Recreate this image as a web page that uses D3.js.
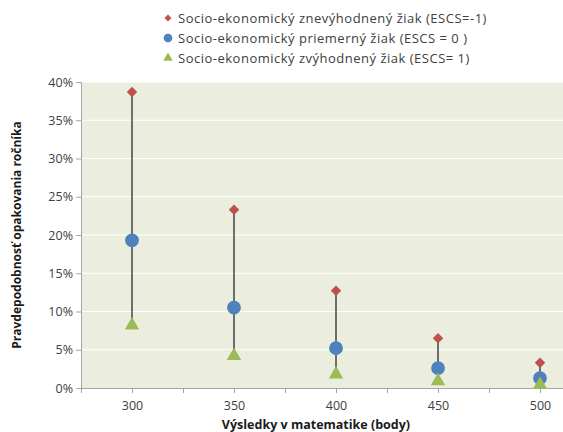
<!DOCTYPE html>
<html>
<head>
<meta charset="utf-8">
<script src="https://cdn.jsdelivr.net/npm/d3@7"></script>
<style>
  body { margin: 0; background: #fff; }
  text { font-family: "Open Sans", "DejaVu Sans", sans-serif; }
</style>
</head>
<body>
<div id="chart"></div>
<script>
// data
var scores = [300, 350, 400, 450, 500];
var disadvantaged = [0.387, 0.233, 0.127, 0.065, 0.033]; // ESCS = -1
var average = [0.193, 0.105, 0.052, 0.026, 0.013];       // ESCS = 0
var advantaged = [0.082, 0.042, 0.018, 0.009, 0.004];    // ESCS = 1
var yTicks = [0, 0.05, 0.1, 0.15, 0.2, 0.25, 0.3, 0.35, 0.4];
var xTicks = [275, 300, 325, 350, 375, 400, 425, 450, 475, 500, 525];
var seriesNames = [
  'Socio-ekonomický znevýhodnený žiak (ESCS=-1)',
  'Socio-ekonomický priemerný žiak (ESCS = 0 )',
  'Socio-ekonomický zvýhodnený žiak (ESCS= 1)'
];

var W = 563, H = 432;
var plot = { left: 81, top: 82, right: 563, bottom: 388 };

var svg = d3.select('#chart').append('svg')
  .attr('width', W)
  .attr('height', H);

var x = d3.scaleLinear().domain([275, 525]).range([plot.left, plot.left + 510]);
var y = d3.scaleLinear().domain([0, 0.4]).range([plot.bottom, plot.top]);

// plot background
svg.append('rect')
  .attr('x', plot.left).attr('y', plot.top)
  .attr('width', plot.right - plot.left).attr('height', plot.bottom - plot.top)
  .attr('fill', '#ebeedf');

// gridlines
svg.append('g').selectAll('line')
  .data(yTicks.slice(1))
  .enter().append('line')
  .attr('x1', plot.left).attr('x2', plot.right)
  .attr('y1', function(d) { return y(d); })
  .attr('y2', function(d) { return y(d); })
  .attr('stroke', '#fff').attr('stroke-width', 1.2);

// y axis
var yAxis = svg.append('g')
  .attr('transform', 'translate(' + plot.left + ',0)')
  .call(d3.axisLeft(y).tickValues(yTicks).tickFormat(d3.format('.0%')).tickSize(5).tickPadding(3));

// x axis
var xAxis = svg.append('g')
  .attr('transform', 'translate(0,' + plot.bottom + ')')
  .call(d3.axisBottom(x).tickValues(xTicks).tickSize(5).tickPadding(8)
    .tickFormat(function(d) { return scores.indexOf(d) >= 0 ? d : ''; }));

[yAxis, xAxis].forEach(function(a) {
  a.select('.domain').attr('stroke', '#a6a6a6');
  a.selectAll('.tick line').attr('stroke', '#a6a6a6');
  a.selectAll('.tick text').attr('fill', '#404040').style('font-size', '12.5px')
    .style('font-family', '"Open Sans", "DejaVu Sans", sans-serif');
});

var clip = svg.append('defs').append('clipPath').attr('id', 'clip')
  .append('rect').attr('x', plot.left).attr('y', 0)
  .attr('width', plot.right - plot.left).attr('height', H);

var marks = svg.append('g').attr('clip-path', 'url(#clip)');

// high-low lines
marks.selectAll('line.hl')
  .data(scores)
  .enter().append('line')
  .attr('class', 'hl')
  .attr('x1', function(d) { return x(d); })
  .attr('x2', function(d) { return x(d); })
  .attr('y1', function(d, i) { return y(disadvantaged[i]); })
  .attr('y2', function(d, i) { return y(advantaged[i]); })
  .attr('stroke', '#2b2b2b').attr('stroke-width', 1.3);

var diamond = d3.symbol().type(d3.symbolSquare).size(55);
var circle = d3.symbol().type(d3.symbolCircle).size(150);
var triangle = d3.symbol().type(d3.symbolTriangle).size(90);

function drawSeries(vals, sym, color, rot) {
  marks.append('g').selectAll('path')
    .data(scores)
    .enter().append('path')
    .attr('d', sym)
    .attr('transform', function(d, i) {
      return 'translate(' + x(d) + ',' + y(vals[i]) + ') rotate(' + rot + ')';
    })
    .attr('fill', color);
}
drawSeries(disadvantaged, diamond, '#c0504d', 45);
drawSeries(average, circle, '#4f81bd', 0);
drawSeries(advantaged, triangle, '#9bbb59', 0);

// legend
var legendSyms = [
  d3.symbol().type(d3.symbolSquare).size(25),
  d3.symbol().type(d3.symbolCircle).size(60),
  d3.symbol().type(d3.symbolTriangle).size(40)
];
var legendColors = ['#c0504d', '#4f81bd', '#9bbb59'];
var legend = svg.append('g');
seriesNames.forEach(function(name, i) {
  var ly = 18 + i * 20;
  legend.append('path')
    .attr('d', legendSyms[i])
    .attr('transform', 'translate(168,' + ly + ')' + (i === 0 ? ' rotate(45)' : ''))
    .attr('fill', legendColors[i]);
  legend.append('text')
    .attr('x', 178).attr('y', ly)
    .attr('dy', '0.35em')
    .attr('fill', '#404040')
    .style('font-size', '13px')
    .style('letter-spacing', '0.5px')
    .text(name);
});

// axis titles
svg.append('text')
  .attr('transform', 'translate(21,' + ((plot.top + plot.bottom) / 2) + ') rotate(-90)')
  .attr('text-anchor', 'middle')
  .attr('fill', '#1a1a1a')
  .style('font-size', '12px').style('font-weight', 'bold')
  .text('Pravdepodobnosť opakovania ročníka');

svg.append('text')
  .attr('x', 316).attr('y', 429)
  .attr('text-anchor', 'middle')
  .attr('fill', '#1a1a1a')
  .style('font-size', '12.5px').style('font-weight', 'bold')
  .text('Výsledky v matematike (body)');
</script>
</body>
</html>
